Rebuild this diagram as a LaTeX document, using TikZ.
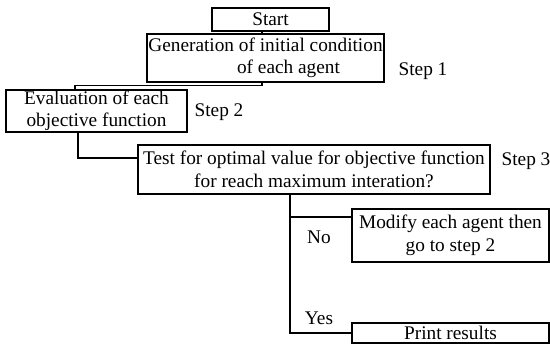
\documentclass[tikz,border=0pt]{standalone}
\usepackage{fontspec}
\setmainfont{Liberation Serif}
\begin{document}
\begin{tikzpicture}[x=1pt,y=-1pt,
  every node/.style={font=\fontsize{19.3}{22.5}\selectfont, inner sep=0pt},
  box/.style={draw, line width=1.6pt, align=center},
  lbl/.style={},
  conn/.style={line width=1.6pt}]
\useasboundingbox (0,0) rectangle (550,345);
\node[box, minimum width=117, minimum height=23] (start) at (270.5,19.5) {Start};
\node[box, minimum width=237, minimum height=48] (gen) at (265.5,58) {Generation of initial condition\\\hspace*{46pt}of each agent};
\node[box, minimum width=181, minimum height=42] (eval) at (96.5,111) {Evaluation of each\\objective function};
\node[box, minimum width=352, minimum height=49] (test) at (314,169.5) {Test for optimal value for objective function\\for reach maximum interation?};
\node[box, minimum width=197, minimum height=53] (modify) at (450.5,235.5) {Modify each agent then\\go to step 2};
\node[box, minimum width=197, minimum height=20] (print) at (450.5,333) {Print results};
\node[lbl] (s1) at (423,71) {Step 1};
\node[lbl] (s2) at (219,112) {Step 2};
\node[lbl] (s3) at (526,161) {Step 3};
\node[lbl] (no) at (319,237) {No};
\node[lbl] (yes) at (319,318) {Yes};
\coordinate (c1) at (262,0);
\coordinate (c2) at (75,85.5);
\coordinate (c3) at (78,158);
\coordinate (c4) at (290,0);
\coordinate (c6) at (0,217);
\draw[conn] (start.south -| c1) -- (gen.north -| c1);
\draw[conn] (gen.south -| c1) |- (c2) -- (eval.north -| c2);
\draw[conn] (eval.south -| c3) |- (test.west |- c3);
\draw[conn] (test.south -| c4) |- (print.west);
\draw[conn] (c4 |- c6) -- (modify.west |- c6);
\end{tikzpicture}
\end{document}
